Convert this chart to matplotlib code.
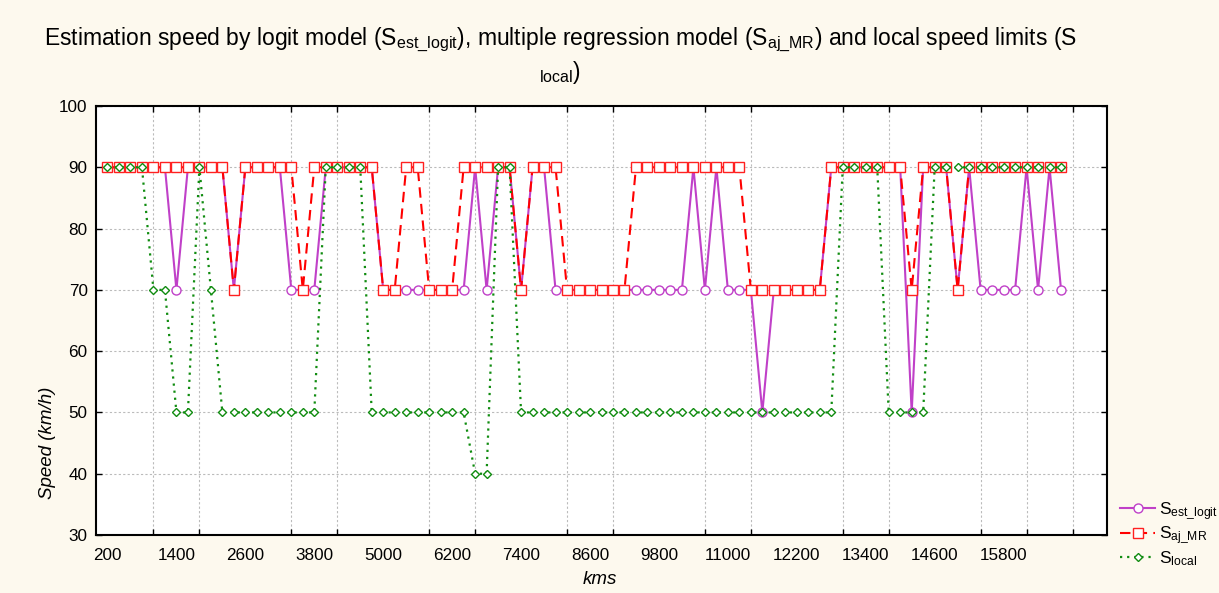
import matplotlib
matplotlib.use("Agg")
import matplotlib.pyplot as plt
import numpy as np

plt.rcParams["font.family"] = ["Liberation Sans", "DejaVu Sans"]
plt.rcParams["mathtext.fontset"] = "custom"
plt.rcParams["mathtext.rm"] = "Liberation Sans"
plt.rcParams["mathtext.it"] = "Liberation Sans:italic"
plt.rcParams["mathtext.bf"] = "Liberation Sans:bold"

# km posts, one reading every 200
kms = np.arange(200, 16801, 200)

s_est_logit = [
    90, 90, 90, 90, 90, 90, 70, 90, 90, 90, 90, 70, 90, 90, 90, 90,
    70, 70, 70, 90, 90, 90, 90, 90, 70, 70, 70, 70, 70, 70, 70, 70,
    90, 70, 90, 90, 70, 90, 90, 70, 70, 70, 70, 70, 70, 70, 70, 70,
    70, 70, 70, 90, 70, 90, 70, 70, 70, 50, 70, 70, 70, 70, 70, 90,
    90, 90, 90, 90, 90, 90, 50, 90, 90, 90, 70, 90, 70, 70, 70, 70,
    90, 70, 90, 70,
]
s_aj_mr = [
    90, 90, 90, 90, 90, 90, 90, 90, 90, 90, 90, 70, 90, 90, 90, 90,
    90, 70, 90, 90, 90, 90, 90, 90, 70, 70, 90, 90, 70, 70, 70, 90,
    90, 90, 90, 90, 70, 90, 90, 90, 70, 70, 70, 70, 70, 70, 90, 90,
    90, 90, 90, 90, 90, 90, 90, 90, 70, 70, 70, 70, 70, 70, 70, 90,
    90, 90, 90, 90, 90, 90, 70, 90, 90, 90, 70, 90, 90, 90, 90, 90,
    90, 90, 90, 90,
]
s_local = [
    90, 90, 90, 90, 70, 70, 50, 50, 90, 70, 50, 50, 50, 50, 50, 50,
    50, 50, 50, 90, 90, 90, 90, 50, 50, 50, 50, 50, 50, 50, 50, 50,
    40, 40, 90, 90, 50, 50, 50, 50, 50, 50, 50, 50, 50, 50, 50, 50,
    50, 50, 50, 50, 50, 50, 50, 50, 50, 50, 50, 50, 50, 50, 50, 50,
    90, 90, 90, 90, 50, 50, 50, 50, 90, 90, 90, 90, 90, 90, 90, 90,
    90, 90, 90, 90,
]

x_tick_labels = [200, 1400, 2600, 3800, 5000, 6200, 7400, 8600, 9800,
                 11000, 12200, 13400, 14600, 15800]
y_ticks = [30, 40, 50, 60, 70, 80, 90, 100]

BG = "#fdf9ee"
W, H = 1219, 593

fig = plt.figure(figsize=(W / 100, H / 100), dpi=100, facecolor=BG)
ax = fig.add_axes([96 / W, 1 - 535 / H, (1107 - 96) / W, (535 - 106) / H])
ax.set_facecolor("white")

ax.plot(kms, s_est_logit, color="#c040c8", lw=1.5, marker="o", ms=6.5,
        mfc="white", mec="#c040c8", mew=1.0, label=r"S$_{\mathrm{est\_logit}}$")
ax.plot(kms, s_aj_mr, color="#ff0000", lw=1.5, ls=(0, (5, 3)), marker="s",
        ms=7, mfc="white", mec="#ff2020", mew=1.0, label=r"S$_{\mathrm{aj\_MR}}$")
ax.plot(kms, s_local, color="#108c10", lw=1.6, ls=(0, (1, 2.2)), marker="D",
        ms=4.5, mfc="white", mec="#108c10", mew=1.0, label=r"S$_{\mathrm{local}}$")

ax.set_xlim(0, 17600)
ax.set_ylim(30, 100)
ax.set_xticks(x_tick_labels)
ax.set_xticklabels([str(v) for v in x_tick_labels])
ax.set_xticks(np.arange(200, 17001, 800), minor=True)
ax.set_yticks(y_ticks)

ax.tick_params(axis="x", which="major", length=0, pad=9, labelsize=12.3)
ax.tick_params(axis="x", which="minor", direction="in", length=4, width=1,
               top=True, bottom=True)
ax.tick_params(axis="y", which="major", direction="in", length=4, width=1,
               left=True, right=True, labelsize=12.3, pad=6)

ax.grid(False, which="major", axis="x")
ax.grid(True, which="minor", axis="x", color="#bbbbbb", ls=(0, (2, 2)), lw=0.8)
ax.grid(True, which="major", axis="y", color="#bbbbbb", ls=(0, (2, 2)), lw=0.8)
ax.set_axisbelow(True)

for spine in ax.spines.values():
    spine.set_linewidth(1.5)

fig.text(560 / W, 1 - 40 / H,
         r"Estimation speed by logit model (S$_{\mathrm{est\_logit}}$), multiple regression "
         r"model (S$_{\mathrm{aj\_MR}}$) and local speed limits (S",
         ha="center", va="center", fontsize=16.5)
fig.text(560 / W, 1 - 72 / H, r"$_{\mathrm{local}}$)", ha="center", va="center",
         fontsize=16.5)

fig.text(47 / W, 1 - 443 / H, "Speed (km/h)", rotation=90, ha="center",
         va="center", fontsize=13.5, style="italic")
fig.text(600 / W, 1 - 580 / H, "kms", ha="center", va="center", fontsize=13.5,
         style="italic")

fig.legend(loc="lower left", bbox_to_anchor=(1110 / W, 1 - 578 / H),
           frameon=False, fontsize=12.5, handlelength=2.0, handletextpad=0.2,
           labelspacing=0.15, borderpad=0.1)

fig.savefig("out.png", dpi=100, facecolor=BG)
